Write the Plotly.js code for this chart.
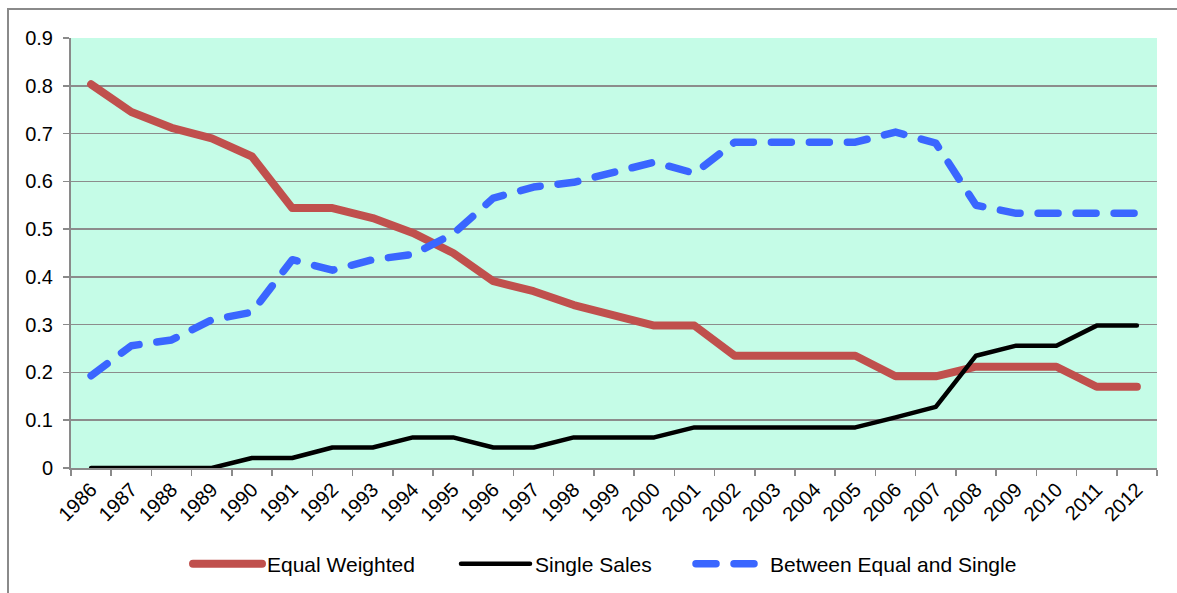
<!DOCTYPE html>
<html>
<head>
<meta charset="utf-8">
<script src="https://cdn.plot.ly/plotly-3.0.1.min.js"></script>
<style>
  html, body { margin: 0; padding: 0; background: #fff; }
  #wrap { position: relative; width: 1177px; height: 593px; overflow: hidden; }
  #chart { position: absolute; left: 0; top: 0; width: 1177px; height: 593px; }
  #frame { position: absolute; left: 7px; top: 8px; width: 1200px; height: 700px; border: 2px solid #8a8a8a; box-sizing: border-box; pointer-events: none; }
  .js-line { stroke-linecap: round !important; stroke-linejoin: round !important; }
</style>
</head>
<body>
<div id="wrap">
  <div id="chart"></div>
  <div id="frame"></div>
</div>
<script>
const years = ["1986","1987","1988","1989","1990","1991","1992","1993","1994","1995","1996","1997","1998","1999","2000","2001","2002","2003","2004","2005","2006","2007","2008","2009","2010","2011","2012"];

const equalWeighted = [0.803,0.745,0.712,0.690,0.652,0.544,0.544,0.523,0.492,0.450,0.391,0.370,0.341,0.320,0.298,0.298,0.235,0.235,0.235,0.235,0.192,0.192,0.212,0.212,0.212,0.170,0.170];

const singleSales = [0,0,0,0,0.021,0.021,0.043,0.043,0.064,0.064,0.043,0.043,0.064,0.064,0.064,0.085,0.085,0.085,0.085,0.085,0.106,0.128,0.235,0.256,0.256,0.298,0.298];

const between = [0.193,0.256,0.268,0.310,0.326,0.436,0.414,0.436,0.447,0.490,0.565,0.588,0.598,0.620,0.640,0.617,0.682,0.682,0.682,0.682,0.703,0.680,0.550,0.533,0.533,0.533,0.533];

const yTicks = [0,0.1,0.2,0.3,0.4,0.5,0.6,0.7,0.8,0.9];

const font = "Liberation Sans, Arial, sans-serif";

const traces = [
  { x: years, y: equalWeighted, name: "Equal Weighted", type: "scatter", mode: "lines",
    line: { color: "#C0504D", width: 8 }, legend: "legend" },
  { x: years, y: singleSales, name: "Single Sales", type: "scatter", mode: "lines",
    line: { color: "#000000", width: 4.5 }, legend: "legend2" },
  { x: years, y: between, name: "Between Equal and Single", type: "scatter", mode: "lines",
    line: { color: "#3A66FF", width: 7.5, dash: "20px,18px" }, legend: "legend3" }
];

// plot area: left 71px, width 1086px, bottom 468px, height 430px
function leg(px) {
  return {
    x: (px - 71) / 1086, xanchor: "left", y: (468 - 564) / 430, yanchor: "middle",
    font: { family: font, size: 21, color: "#000" },
    itemwidth: 69, bgcolor: "rgba(0,0,0,0)", borderwidth: 0
  };
}

const layout = {
  width: 1177, height: 593,
  margin: { l: 71, r: 20, t: 38, b: 125, pad: 0, autoexpand: false },
  paper_bgcolor: "rgba(0,0,0,0)",
  plot_bgcolor: "#C5FCE7",
  font: { family: font, size: 20, color: "#000" },
  showlegend: true,
  legend: leg(188),
  legend2: leg(456),
  legend3: leg(691),
  xaxis: {
    type: "category", range: [-0.5, 26.5],
    tickangle: -45, tickson: "boundaries", ticks: "outside", ticklen: 6, tickcolor: "#8a8a8a", tickwidth: 1.5,
    showline: true, linecolor: "#8a8a8a", linewidth: 2,
    showgrid: false, zeroline: false, fixedrange: true, automargin: false,
    tickfont: { family: font, size: 20 }
  },
  yaxis: {
    range: [0, 0.9], tickvals: yTicks, ticktext: yTicks.map(v => String(v)),
    ticks: "outside", ticklen: 6, tickcolor: "#8a8a8a", tickwidth: 1.5,
    showline: true, linecolor: "#8a8a8a", linewidth: 2, ticklabelstandoff: 6,
    showgrid: true, gridcolor: "#8c8c8c", gridwidth: 1.5, zeroline: false, automargin: false,
    tickfont: { family: font, size: 20 }, fixedrange: true
  }
};

Plotly.newPlot("chart", traces, layout, { displayModeBar: false, staticPlot: true });
</script>
</body>
</html>
